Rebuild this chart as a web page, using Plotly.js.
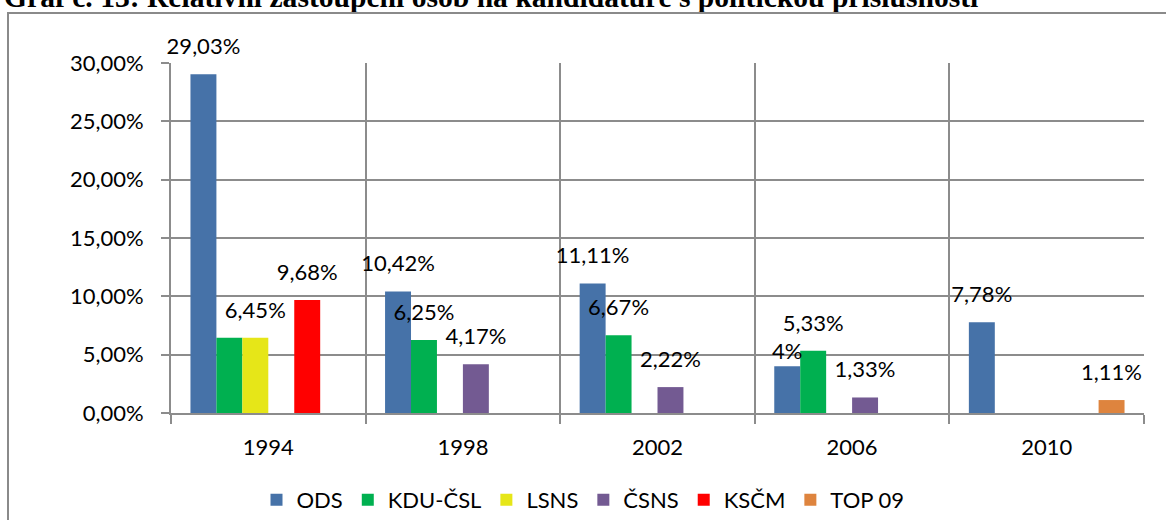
<!DOCTYPE html>
<html><head><meta charset="utf-8">
<script src="https://cdn.plot.ly/plotly-3.0.1.min.js"></script>
<style>
html,body{margin:0;padding:0;background:#fff;overflow:hidden;}
#chart{width:1166px;height:520px;position:relative;}
#frame{position:absolute;left:7px;top:12px;width:1200px;height:600px;border:2px solid #8a8a8a;pointer-events:none;}
</style></head>
<body>
<div id="chart"></div>
<div id="frame"></div>
<script>
const years = ['1994', '1998', '2002', '2006', '2010'];
const seriesNames = ['ODS', 'KDU-ČSL', 'LSNS', 'ČSNS', 'KSČM', 'TOP 09'];
const ODS    = [29.03, 10.42, 11.11, 4, 7.78];
const KDU    = [6.45, 6.25, 6.67, 5.33, null];
const LSNS   = [6.45, null, null, null, null];
const CSNS   = [null, 4.17, 2.22, 1.33, null];
const KSCM   = [9.68, null, null, null, null];
const TOP09  = [null, null, null, null, 1.11];
// labels hidden where Excel hid overlapping labels
const hiddenLabels = {'KDU-ČSL': ['1994']};
// labels Excel placed lower (closer to the bar top)
const lowLabels = {'ODS': ['2006']};
const colors = ['#4672A8', '#00B050', '#E6E618', '#735A92', '#FF0000', '#DE843E'];

const allValues = [ODS, KDU, LSNS, CSNS, KSCM, TOP09];
function fmt(v){
  if (v === null) return '';
  if (Number.isInteger(v)) return v + '%';
  return v.toFixed(2).replace('.', ',') + '%';
}
const FONT = 'Lato, "Open Sans", sans-serif';
const barTraces = allValues.map((vals, i) => ({
  type: 'bar',
  name: seriesNames[i],
  x: years,
  y: vals,
  offsetgroup: seriesNames[i],
  alignmentgroup: 'g',
  marker: {color: colors[i], line: {width: 0}},
  hoverinfo: 'x+y+name'
}));
const labelTraces = allValues.map((vals, i) => ({
  type: 'scatter',
  mode: 'markers+text',
  name: seriesNames[i] + ' label',
  showlegend: false,
  x: years,
  y: vals,
  offsetgroup: seriesNames[i],
  alignmentgroup: 'g',
  text: vals.map((v, j) => (hiddenLabels[seriesNames[i]] || []).includes(years[j]) ? '' : fmt(v)),
  textposition: 'top center',
  textfont: {family: FONT, size: 22, color: '#000'},
  marker: {
    size: years.map(y => (lowLabels[seriesNames[i]] || []).includes(y) ? 1 : 22),
    color: 'rgba(0,0,0,0)',
    opacity: 0,
    line: {width: 0, color: 'rgba(0,0,0,0)'}
  },
  cliponaxis: false,
  hoverinfo: 'skip'
}));

const layout = {
  width: 1166, height: 520,
  margin: {l: 171, r: 22, t: 63, b: 107},
  paper_bgcolor: '#fff', plot_bgcolor: '#fff',
  separators: ', ',
  barmode: 'group', bargap: 0.2, bargroupgap: 0,
  scattermode: 'group', scattergap: 0.2,
  font: {family: FONT, size: 22, color: '#000'},
  annotations: [{
    text: '<b>Graf č. 13: Relativní zastoupení osob na kandidatuře s politickou příslušností</b>',
    font: {family: '"Liberation Serif", "Times New Roman", serif', size: 29.6, color: '#000'},
    xref: 'paper', x: -0.1737, xanchor: 'left',
    yref: 'paper', y: 1.19, yanchor: 'middle',
    showarrow: false
  }],
  xaxis: {
    type: 'category',
    tickson: 'boundaries',
    showgrid: true, gridcolor: '#8c8c8c', gridwidth: 2,
    showline: true, linecolor: '#8c8c8c', linewidth: 2,
    ticks: 'outside', ticklen: 9, tickcolor: '#8c8c8c', tickwidth: 2,
    ticklabelstandoff: 14,
    tickfont: {family: FONT, size: 22, color: '#000'},
    fixedrange: true
  },
  yaxis: {
    range: [0, 30], dtick: 5, tick0: 0,
    tickformat: '.2f', ticksuffix: '%',
    showgrid: true, gridcolor: '#8c8c8c', gridwidth: 2,
    showline: true, linecolor: '#8c8c8c', linewidth: 2,
    zeroline: false,
    ticks: 'outside', ticklen: 8, tickcolor: '#8c8c8c', tickwidth: 2,
    ticklabelstandoff: 13,
    tickfont: {family: FONT, size: 22, color: '#000'},
    fixedrange: true
  },
  showlegend: true,
  legend: {
    orientation: 'h',
    xref: 'container', x: 0.5, xanchor: 'center',
    yref: 'container', y: 0.0385, yanchor: 'middle',
    font: {family: FONT, size: 22, color: '#000'},
    itemwidth: 30, traceorder: 'normal'
  }
};
Plotly.newPlot('chart', barTraces.concat(labelTraces), layout, {displayModeBar: false, staticPlot: true});
</script>
</body></html>
